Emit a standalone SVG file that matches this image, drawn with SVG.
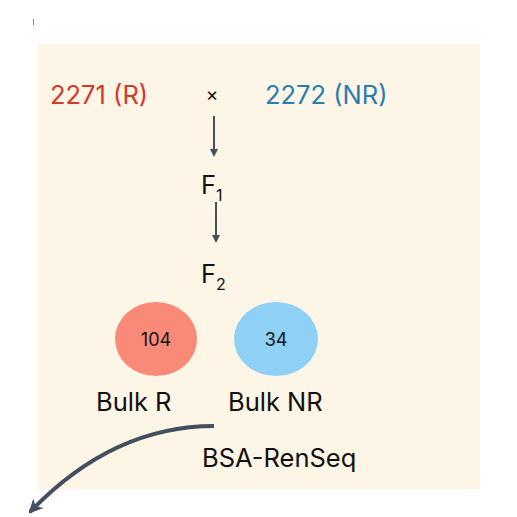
<svg xmlns="http://www.w3.org/2000/svg" width="517" height="517" viewBox="0 0 517 517">
<style>
text{font-family:Inter,"Noto Sans",sans-serif;fill:#111}
.lbl{font-size:25.5px}
.num{font-size:18px;text-anchor:middle}
.conn{stroke:#434e5e;fill:none}
</style>
<defs>
<marker id="ah" markerWidth="8" markerHeight="8" refX="6" refY="4" orient="auto" markerUnits="userSpaceOnUse" viewBox="0 0 8 8">
<path d="M0,0 L8,4 L0,8 Z" fill="#434e5e"/>
</marker>
<marker id="ah2" markerWidth="16" markerHeight="14" refX="12" refY="7" orient="auto" markerUnits="userSpaceOnUse" viewBox="0 0 16 14">
<path d="M0,0 L14,7 L0,14 L4,7 Z" fill="#434e5e"/>
</marker>
</defs>
<rect x="38" y="44" width="442" height="445" fill="#fdf5e6"/>
<line x1="33.5" y1="19" x2="33.5" y2="25" stroke="#888" stroke-width="1"/>
<g id="parentR"><text class="lbl" x="50" y="104" style="fill:#d23a2c">2271 (R)</text></g>
<g id="cross"><text x="212" y="101" style="font-size:19px;text-anchor:middle">×</text></g>
<g id="parentNR"><text class="lbl" x="265" y="104" style="fill:#2a7db1">2272 (NR)</text></g>
<g id="F1"><text class="lbl" x="201" y="194">F<tspan font-size="16" dy="7">1</tspan></text></g>
<g id="F2"><text class="lbl" x="201" y="283">F<tspan font-size="16" dy="7">2</tspan></text></g>
<g id="bulkR">
<ellipse cx="156" cy="339" rx="41" ry="37" fill="#fa8a78"/>
<text class="num" x="156" y="346">104</text>
<text class="lbl" x="96" y="411">Bulk R</text>
</g>
<g id="bulkNR">
<ellipse cx="276" cy="339" rx="42" ry="37" fill="#8fd0f6"/>
<text class="num" x="276" y="346">34</text>
<text class="lbl" x="228" y="411">Bulk NR</text>
</g>
<g id="bsa"><text class="lbl" x="202" y="467">BSA-RenSeq</text></g>
<g id="connectors">
<line class="conn" x1="214" y1="116" x2="214" y2="155" stroke-width="2" marker-end="url(#ah)"/>
<line class="conn" x1="216" y1="202" x2="216" y2="241" stroke-width="2" marker-end="url(#ah)"/>
<path class="conn" d="M214,426 C140,426 80,460 30,512" stroke-width="4" marker-end="url(#ah2)"/>
</g>
</svg>
